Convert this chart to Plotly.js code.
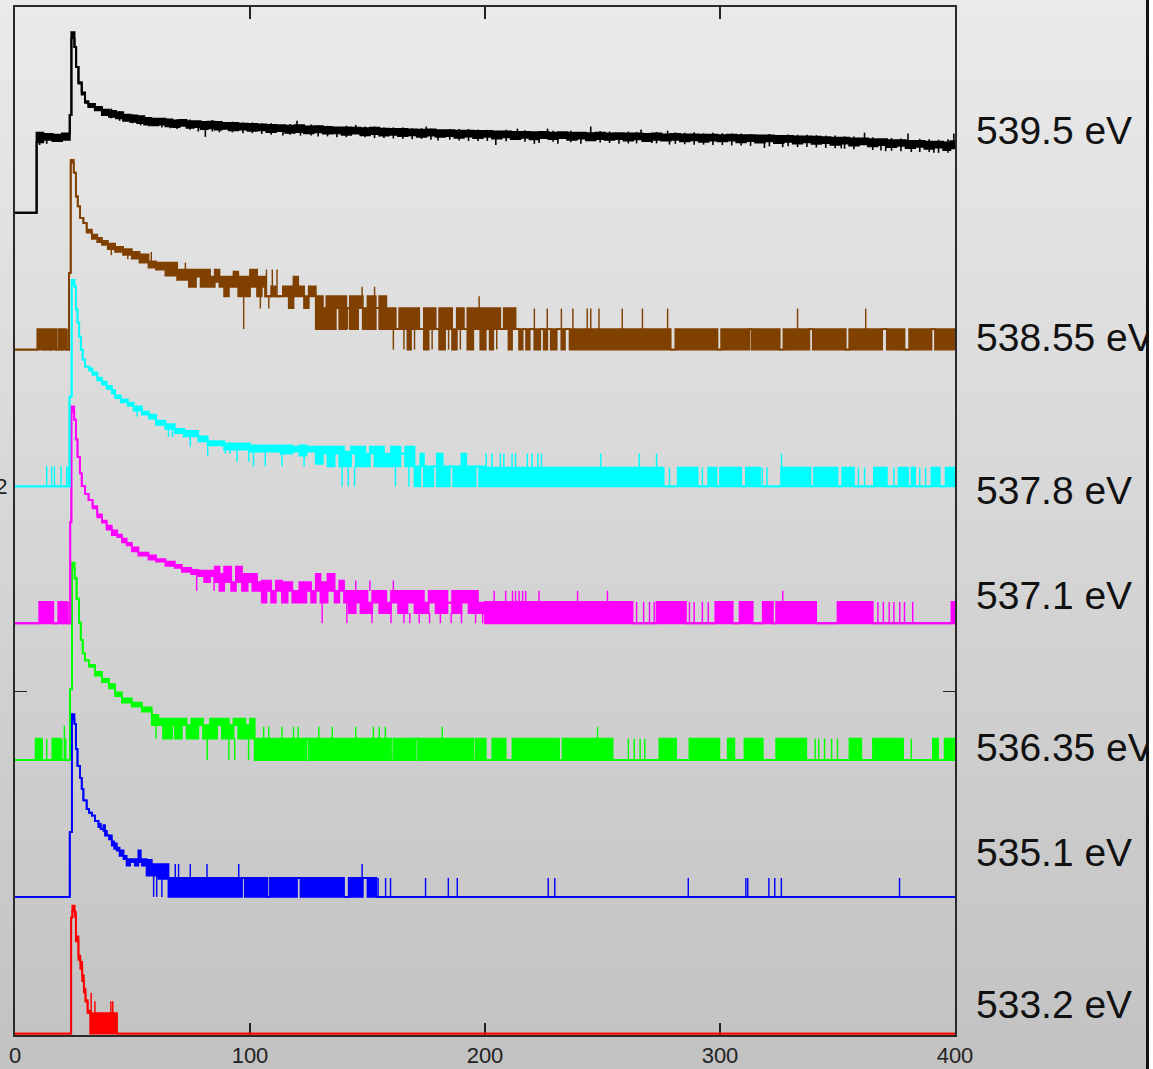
<!DOCTYPE html>
<html>
<head>
<meta charset="utf-8">
<script src="https://cdn.plot.ly/plotly-3.0.1.min.js"></script>
<style>
  html, body { margin: 0; padding: 0; }
  body {
    width: 1153px; height: 1069px; overflow: hidden; position: relative;
    background: linear-gradient(to bottom, #eaeaea 0%, #d6d6d6 50%, #c2c2c2 100%);
  }
  #chart { position: absolute; left: 0; top: 0; width: 1153px; height: 1069px; }
  #edge { position: absolute; left: 1146px; top: 0; width: 3px; height: 1069px; background: #111; }
  #edgeWhite { position: absolute; left: 1149px; top: 0; width: 4px; height: 1069px; background: #fff; }
</style>
</head>
<body>
<div id="chart"></div>
<div id="edge"></div>
<div id="edgeWhite"></div>
<script>
// Time spectra per photon energy. Each step entry is [x, low, high]: the signal
// between x and the next entry toggles between low and high (equal = steady level).
// Spike entries are [x, from, to]: single-bin excursions.

const xTickValues = [0, 100, 200, 300, 400];
const xTickText = ['0', '100', '200', '300', '400'];
const yTickValues = [1.5, 2];
const yTickText = ['', '2'];

const energyLabels = ['539.5 eV', '538.55 eV', '537.8 eV', '537.1 eV', '536.35 eV', '535.1 eV', '533.2 eV'];

// 539.5 eV
const blackSteps = [
  [0,0,0],[9.2,.172,.195],[12,.178,.192],[16,.175,.190],[20,.178,.193],[23.3,.238,.238],
  [24.0,.425,.440],[25.3,.404,.404],[26.0,.355,.355],[27.0,.315,.318],[28.4,.288,.293],
  [29.8,.268,.272],[31.2,.258,.265],[34,.250,.258],[37,.238,.251],[40,.234,.248],
  [43,.230,.245],[46,.224,.239],[49,.222,.237],[52,.219,.235],[55,.215,.231],[58,.213,.229],
  [61,.215,.229],[64,.211,.227],[67,.209,.225],[70,.212,.226],[73,.207,.223],[76,.209,.223],
  [79,.204,.221],[82,.206,.222],[85,.203,.221],[88,.205,.219],[91,.201,.219],[95,.203,.217],
  [99,.200,.216],[103,.201,.215],[107,.197,.214],[111,.199,.213],[115,.195,.212],[119,.197,.213],
  [123,.194,.210],[127,.196,.211],[131,.193,.209],[135,.194,.208],[139,.190,.208],[143,.193,.207],
  [147,.189,.206],[151,.192,.207],[155,.188,.205],[159,.190,.204],[163,.187,.204],[167,.189,.203],
  [171,.185,.202],[175,.188,.203],[179,.185,.201],[183,.187,.201],[187,.183,.200],[191,.186,.200],
  [195,.182,.199],[199,.185,.199],[203,.181,.198],[207,.184,.198],[211,.180,.197],[215,.183,.197],
  [219,.179,.196],[223,.182,.197],[227,.180,.195],[231,.182,.196],[235,.178,.195],[239,.181,.195],
  [243,.177,.194],[247,.180,.195],[251,.178,.193],[255,.180,.194],[259,.176,.193],[263,.179,.193],
  [267,.175,.192],[271,.178,.193],[275,.176,.191],[279,.178,.192],[283,.174,.191],[287,.177,.191],
  [291,.173,.190],[295,.176,.190],[299,.174,.189],[303,.176,.190],[307,.172,.189],[311,.175,.189],
  [315,.171,.188],[319,.174,.188],[323,.170,.187],[327,.173,.187],[331,.169,.186],[335,.172,.186],
  [339,.168,.185],[343,.170,.184],[347,.166,.183],[351,.169,.183],[355,.164,.181],[359,.167,.181],
  [363,.162,.179],[367,.165,.179],[371,.160,.177],[375,.163,.177],[379,.158,.175],[383,.161,.175],
  [387,.156,.173],[391,.159,.173],[395,.153,.171],[398,.157,.174],[400,.157,.174]
];
const blackSpikes = [
  [10.5,.165,.178],[13.5,.168,.178],[41,.230,.254],[44.5,.224,.248],[50,.218,.240],[53.5,.213,.236],
  [57,.210,.232],[62.5,.208,.230],[66,.206,.228],[69,.204,.228],[74.5,.202,.227],[78,.198,.224],
  [81,.185,.207],[84,.198,.226],[87,.196,.222],[92.5,.196,.222],[97,.194,.220],[101,.194,.220],
  [105,.192,.218],[109,.190,.218],[114,.188,.200],[117,.190,.216],[120,.200,.224],[121.5,.188,.214],
  [126,.188,.215],[129,.186,.213],[133,.186,.212],[137,.184,.197],[141,.184,.212],[145,.200,.214],
  [149,.184,.210],[153,.182,.210],[157,.182,.208],[161,.181,.208],[165,.180,.208],[169,.179,.206],
  [173,.180,.206],[175,.195,.210],[177,.178,.205],[180,.176,.190],[185,.178,.204],[189,.176,.204],
  [193,.175,.204],[197,.175,.203],[201,.175,.202],[204.6,.165,.184],[209,.174,.202],[213.8,.190,.205],
  [217,.173,.201],[221,.168,.183],[223,.170,.183],[226.6,.190,.205],[229,.173,.200],[231,.168,.183],
  [236.5,.172,.200],[240.8,.168,.180],[245,.190,.210],[249,.171,.199],[253,.170,.198],[257,.168,.181],
  [261,.169,.198],[264.5,.169,.197],[266.4,.190,.203],[271,.170,.181],[273,.169,.197],[277.7,.188,.200],
  [278.5,.166,.179],[281,.168,.196],[285,.167,.195],[289,.166,.196],[293,.166,.194],[297,.165,.195],
  [301,.165,.194],[305,.164,.193],[309,.164,.193],[313,.163,.192],[318.9,.158,.175],[321,.162,.192],
  [326.7,.160,.173],[329,.162,.191],[333,.160,.190],[337,.160,.190],[341,.159,.189],[345,.158,.188],
  [349,.157,.188],[351.6,.157,.172],[353,.156,.186],[357,.155,.186],[361.5,.170,.195],[365,.153,.184],
  [368.5,.152,.165],[370.5,.150,.163],[373,.151,.182],[377,.150,.181],[380,.165,.193],[381.4,.148,.164],
  [385,.148,.180],[389,.148,.179],[391,.146,.162],[393,.146,.178],[397,.146,.179],[399.5,.165,.193]
];

// 538.55 eV
const brownSteps = [
  [0,0,0],[9.5,0,.05],[12.5,0,0],[13.1,0,.05],[14.6,0,0],[15.2,0,.05],[17.5,0,0],[18.4,0,.05],
  [19.6,0,0],[20.3,0,.05],[21.8,0,0],[23.0,.187,.187],[23.7,.455,.462],[25.0,.431,.431],
  [25.9,.373,.373],[26.7,.349,.349],[27.7,.321,.321],[29.1,.308,.308],[30.5,.285,.292],
  [32.7,.270,.280],[35,.262,.272],[37,.255,.265],[39.5,.245,.258],[42.6,.238,.250],[46,.231,.245],
  [49.7,.222,.238],[53,.212,.232],[56.8,.200,.215],[60,.195,.212],[64,.180,.212],[69,.170,.195],
  [74,.153,.195],[77,.178,.195],[79,.153,.195],[83,.153,.178],[85,.165,.195],[87,.153,.178],
  [89,.130,.178],[91,.153,.178],[93,.153,.190],[95,.130,.178],[98,.130,.178],[100,.153,.195],
  [103,.130,.178],[105,.153,.178],[106.5,.130,.130],[109,.130,.154],[111,.130,.130],[114,.130,.154],
  [116.5,.101,.154],[118.5,.130,.178],[120.5,.130,.154],[123,.101,.130],[125,.130,.154],
  [128,.05,.130],[131,.05,.101],[132.5,.05,.130],[136.5,.101,.130],[138,.05,.130],[141,.101,.101],
  [142.5,.05,.130],[146,.101,.130],[148,.05,.101],[150,.05,.130],[153.5,.101,.101],[155,.05,.130],
  [158,.05,.101],[162,.05,.05],[163.5,.05,.101],[167,0,.101],[168.5,.05,.101],[172,.05,.05],
  [174,0,.101],[176,.05,.101],[179,.05,.05],[180.5,0,.101],[183,.05,.101],[186,0,.05],
  [188,.05,.101],[191,.05,.05],[192.5,0,.101],[195,.05,.101],[198,0,.101],[200.3,.05,.101],
  [202,0,.101],[203.5,.05,.101],[206.5,.05,.05],[208,.05,.101],[210,0,.101],[211.5,.05,.101],
  [213,.05,.05],[214.5,0,.05],[216,.05,.05],[217.5,0,.05],[219,.05,.05],[221,0,.05],[223.5,.05,.05],
  [225,0,.05],[226.5,.05,.05],[228,0,.05],[230.5,.05,.05],[232.5,0,.05],[234,.05,.05],[236,0,.05],
  [279,0,0],[281,0,.05],[298.9,0,0],[300.5,0,.05],[312.5,.05,.05],[313.5,0,.05],[325.4,0,0],
  [327,0,.05],[338,.05,.05],[339.5,0,.05],[353.5,0,0],[355,0,.05],[369,.05,.05],[371,0,.05],
  [378.5,0,0],[380.5,0,.05],[390,.05,.05],[391.5,0,.05],[400,0,.05]
];
const brownSpikes = [
  [22.5,0,.05],[41,.23,.245],[48,.22,.231],[58,.215,.238],[72.5,.195,.212],[97.3,.05,.153],
  [104.4,.10,.130],[107,.130,.195],[108,.10,.130],[109.5,.130,.195],[111.5,.130,.195],[124,.10,.130],
  [141.5,.05,.100],[147.7,.130,.153],[153,.130,.153],[161,0,.05],[165.5,0,.05],[170,0,.05],
  [177.5,0,.05],[182,0,.05],[184.5,0,.05],[189.5,0,.05],[194,0,.05],[197.5,.10,.130],[205,0,.05],
  [221,.05,.10],[226.5,.05,.10],[232.5,.05,.10],[237.4,.05,.10],[243.5,.05,.10],[245,.05,.10],
  [248.5,.05,.10],[258.4,.05,.10],[267,.05,.10],[277.7,.05,.10],[333,.05,.10],[362,.05,.10]
];

// 537.8 eV
const cyanSteps = [
  [0,0,0],[23.2,.219,.219],[24.1,.495,.503],[25.3,.487,.487],[25.9,.431,.431],[26.6,.399,.399],
  [27.3,.365,.365],[28.0,.333,.333],[28.8,.309,.309],[29.8,.292,.292],[31.5,.282,.288],
  [33,.272,.278],[35,.258,.265],[37,.248,.255],[39,.238,.245],[41.2,.226,.235],[42.6,.215,.222],
  [45,.205,.212],[48,.196,.204],[50.5,.185,.195],[54,.175,.182],[57,.165,.175],[60,.150,.160],
  [64,.140,.152],[68,.130,.140],[72,.122,.135],[78,.110,.122],[82,.100,.110],[89,.090,.105],
  [100,.085,.100],[113,.080,.100],[118,.085,.097],[121,.075,.100],[124,.085,.097],[128,.055,.097],
  [131,.080,.097],[133,.049,.097],[136,.080,.097],[138,.049,.097],[140,.049,.085],[143,.080,.097],
  [145,.049,.097],[149,.049,.080],[151,.080,.097],[153,.049,.097],[157,.049,.080],[160,.049,.097],
  [164,.080,.080],[166,.049,.097],[170,0,.049],[172.5,.049,.080],[174,0,.049],[178,.049,.049],
  [179.5,0,.080],[182,0,.049],[185,.049,.049],[186.5,0,.049],[190,0,.080],[192,0,.049],
  [196,.049,.049],[197.5,0,.049],[200,0,.046],
  [276,0,0],[282,0,.046],[290.5,0,0],[295,0,.046],[298.5,0,0],[300,0,.046],[309,0,0],[311,0,.046],
  [317,0,0],[326,0,.046],[338.5,0,0],[340,0,.046],[350,0,0],[352,0,.046],[357,0,0],[365.5,0,.046],
  [371,0,0],[376,0,.046],[380,0,0],[381.5,0,.046],[383,0,0],[390,0,.046],[393.5,0,0],[396,0,.046],
  [400,0,.046]
];
const cyanSpikes = [
  [13.5,0,.049],[15.6,0,.049],[16.8,0,.049],[19.6,0,.049],[22.0,0,.049],[22.7,0,.049],
  [52,.170,.185],[65.3,.120,.140],[67,.120,.140],[71.7,.120,.130],[74.6,.097,.122],[82,.075,.100],
  [89.5,.080,.090],[91.5,.080,.090],[94.5,.060,.090],[99.5,.060,.090],[101.5,.049,.085],
  [106.5,.049,.085],[113.6,.049,.080],[123,.049,.080],[139.2,0,.049],[141.8,0,.049],
  [144.5,0,.049],[161.9,0,.049],[167.6,0,.049],[200.5,.046,.08],[203,.046,.08],[206.5,.046,.08],
  [208,.046,.08],[211.5,.046,.08],[213,.046,.08],[218,.046,.08],[220,.046,.08],[222.5,.046,.08],
  [224,.046,.08],[249.3,.046,.08],[265.6,.046,.08],[273,.046,.08],[326.2,.046,.08],[278.5,0,.046],
  [292.5,0,.046],[318,0,.046],[320,0,.046],[358.9,0,.046],[361.5,0,.046],[374,0,.046],
  [385,0,.046],[387.5,0,.046]
];

// 537.1 eV
const magentaSteps = [
  [0,0,0],[10.3,0,.052],[16.3,0,0],[18.4,0,.052],[20.1,0,0],[20.6,0,.052],[22.2,0,0],
  [23.5,.246,.246],[24.0,.515,.528],[25.2,.496,.496],[25.9,.448,.448],[26.6,.405,.405],
  [27.6,.365,.365],[28.4,.334,.334],[29.8,.315,.315],[31.3,.300,.300],[33,.280,.285],
  [35,.258,.265],[37,.245,.250],[39,.228,.238],[41.2,.215,.226],[43.5,.210,.216],[45.5,.197,.206],
  [47.5,.190,.196],[49.7,.175,.185],[52.5,.165,.172],[56.8,.155,.165],[60,.150,.156],[64,.140,.150],
  [68,.135,.142],[71,.125,.135],[75,.120,.130],[78,.115,.128],[80.5,.100,.128],[83,.115,.128],
  [85,.100,.138],[87,.079,.120],[89,.100,.138],[92,.079,.100],[94,.100,.138],[96.6,.079,.120],
  [99,.100,.120],[101,.079,.120],[103,.079,.100],[105,.050,.104],[107,.079,.104],[109,.050,.079],
  [111,.079,.104],[113.6,.050,.100],[116,.079,.100],[118,.050,.079],[121,.050,.100],[124,.079,.100],
  [126,.050,.079],[128,.079,.120],[130,.050,.100],[133,.079,.120],[136,.050,.079],[138,.079,.104],
  [140,.050,.079],[142,.025,.079],[145,.050,.079],[147,.025,.079],[150,.025,.050],[152,.050,.079],
  [155,.025,.079],[158,.025,.050],[160,.050,.079],[163,.025,.079],[167,.050,.079],[170,.025,.079],
  [174,.025,.050],[176,.050,.079],[179,.025,.079],[184,.050,.050],[186,.025,.079],[190,.050,.079],
  [193,.025,.079],[197,.025,.050],[200,0,.052],[262.8,0,0],
  [273,0,.052],[285.5,0,0],[298,0,.052],[305.4,0,0],[308.3,0,.052],[313.9,0,0],[318.2,0,.052],
  [322.5,0,0],[323.9,0,.052],[340.9,0,0],[350,0,.052],[365,0,0],[398.5,0,.052],[400,0,.052]
];
const magentaSpikes = [
  [22.6,0,.052],[77.3,.079,.120],[84.7,.079,.115],[130.7,0,.05],[141.2,0,.05],
  [145,.079,.104],[151,.079,.104],[151.9,0,.025],[160,0,.025],[161,.079,.104],[165.5,0,.025],
  [168,0,.025],[172,0,.025],[176.4,0,.025],[181,0,.025],[185.6,0,.025],
  [190,0,.025],[196,0,.025],[199,0,.025],[203.9,.052,.079],[208.8,.052,.079],
  [211.7,.052,.079],[213,.052,.079],[214.5,.052,.079],[216,.052,.079],[217.3,.052,.079],
  [223,.052,.079],[239.4,.052,.079],[252.1,.052,.079],[326.7,.052,.079],[264.5,0,.052],
  [267.5,0,.052],[270,0,.052],[272,0,.052],[287,0,.052],[289,0,.052],[292.5,0,.052],[295,0,.052],
  [367.2,0,.052],[369.5,0,.052],[372,0,.052],[374,0,.052],[376.5,0,.052],[378.5,0,.052],[382,0,.052]
];

// 536.35 eV
const greenSteps = [
  [0,0,0],[8.8,0,.052],[11.2,0,0],[15.9,0,.052],[19.3,0,0],[23.4,.173,.173],[24.3,.465,.481],
  [25.4,.443,.443],[26.2,.393,.393],[27.2,.335,.335],[28.0,.293,.293],[28.8,.260,.260],
  [29.8,.243,.243],[31.5,.227,.232],[34,.206,.215],[37,.190,.198],[40,.175,.185],[42.6,.156,.165],
  [45.5,.140,.150],[49.7,.130,.140],[54,.118,.128],[58.2,.085,.110],[61,.085,.101],[63,.052,.101],
  [66.8,.085,.101],[68,.052,.101],[71,.085,.101],[73,.052,.085],[75,.052,.101],[78,.085,.101],
  [80,.052,.085],[83,.052,.101],[86,.085,.101],[88,.052,.101],[91,.052,.085],[93,.085,.101],
  [95,.052,.101],[98,.052,.085],[100,.052,.101],[102,0,.052],
  [124,.052,.052],[125,0,.052],[160,0,0],[161,0,.052],[170.5,.052,.052],[171.5,0,.052],[195,0,0],
  [196,0,.052],[200.3,0,0],[203.1,0,.052],[208.8,0,0],[211.7,0,.052],[231.5,0,0],[233,0,.052],
  [254.3,0,0],[274.2,0,.052],[281.3,0,0],[287,0,.052],[299.7,0,0],[303.3,0,.052],[306.1,0,0],
  [310.4,0,.052],[318.2,0,0],[323.9,0,.052],[336.7,0,0],[355.1,0,.052],[360.1,0,0],[365.1,0,.052],
  [377.9,0,0],[390.6,0,.052],[392.8,0,0],[395.6,0,.052],[400,0,.052]
];
const greenSpikes = [
  [11.6,0,.052],[13.5,0,.052],[19.9,0,.052],[21.0,0,.083],[21.6,0,.052],[60,.052,.085],
  [81.8,0,.052],[91,0,.052],[93.5,0,.052],[99.4,0,.052],[105.8,.052,.081],
  [108,.052,.081],[113.6,.052,.081],[118.5,.052,.081],[120.5,.052,.081],[129.3,.052,.081],
  [135,.052,.081],[145,.052,.081],[152.5,.052,.081],[155,.052,.081],[157.6,.052,.081],
  [181.8,.052,.081],[247.9,.052,.081],[261,0,.052],[263.5,0,.052],[266,0,.052],[268,0,.052],
  [340.5,0,.052],[342,0,.052],[344.5,0,.052],[347.5,0,.052],[350,0,.052],[381.4,0,.052]
];

// 535.1 eV
const blueSteps = [
  [0,0,0],[23.3,.158,.158],[24.2,.432,.445],[25.3,.421,.421],[25.9,.360,.360],[26.6,.319,.319],
  [27.7,.290,.290],[28.4,.263,.263],[29.1,.235,.235],[30.5,.214,.214],[31.5,.205,.205],
  [32.7,.198,.198],[34,.185,.185],[35.5,.170,.178],[36.5,.165,.165],[37.6,.161,.175],
  [38.3,.149,.161],[39.1,.150,.150],[40,.140,.150],[41.2,.125,.135],[42.2,.117,.130],
  [43.3,.113,.120],[44.5,.100,.113],[46.2,.092,.100],[47.5,.076,.092],[49,.085,.092],
  [51,.076,.092],[52.5,.085,.113],[53.5,.085,.092],[54,.076,.092],[56,.052,.090],[58.2,.052,.080],
  [61,.044,.080],[65.3,0,.046],[96.6,.046,.046],[97.8,0,.046],[107.4,0,0],[108.5,0,.046],
  [120,.046,.046],[121.5,0,.046],[140,0,0],[142,0,.046],[148,.046,.046],[150,0,.046],[153.8,0,0],
  [400,0,0]
];
const blueSpikes = [
  [59,0,.052],[60.3,0,.052],[62.5,0,.044],[68.2,.046,.080],[69.6,.046,.080],[74.6,.046,.080],
  [81.7,.046,.080],[95.2,.046,.080],[147.7,.046,.080],[154.5,0,.046],[157.7,0,.046],[159.8,0,.046],
  [174.7,0,.046],[184.4,0,.046],[188.2,0,.046],[226.9,0,.046],[229.7,0,.046],[286.5,0,.046],
  [311.0,0,.046],[311.8,0,.046],[320.8,0,.046],[323.3,0,.046],[326.1,0,.046],[376.4,0,.046]
];

// 533.2 eV
const redSteps = [
  [0,0,0],[23.9,.283,.283],[24.4,.300,.312],[25.4,.285,.296],[25.9,.225,.237],[27.0,.180,.190],
  [27.8,.158,.175],[28.6,.128,.142],[29.3,.100,.110],[30.0,.078,.082],[30.9,.050,.056],
  [32.0,0,.050],[43.4,0,0],[400,0,0]
];
const redSpikes = [
  [32.4,.05,.10],[34.0,.05,.079],[40.8,.05,.079],[41.6,.05,.079]
];

// Drawing: vertical stacking of the spectra and their colours.
const stackOffset = [8/3, 7/3, 2, 5/3, 4/3, 1, 2/3];
const labelY = [2.866, 2.364, 1.989, 1.735, 1.363, 1.109, 0.737];
const colors = ['#000000', '#804000', '#00ffff', '#ff00ff', '#00ff00', '#0000ff', '#ff0000'];
const widths = [2, 1.8, 1.8, 1.8, 1.8, 1.8, 1.8];
const allSteps = [blackSteps, brownSteps, cyanSteps, magentaSteps, greenSteps, blueSteps, redSteps];
const allSpikes = [blackSpikes, brownSpikes, cyanSpikes, magentaSpikes, greenSpikes, blueSpikes, redSpikes];

const traces = [];
// bottom spectrum first so the upper ones sit on top
for (let i = allSteps.length - 1; i >= 0; i--) {
  const base = stackOffset[i];
  const steps = allSteps[i];
  const line = {shape: 'hv', color: colors[i], width: widths[i]};
  traces.push({
    type: 'scatter', mode: 'lines', hoverinfo: 'skip',
    x: steps.map(s => s[0]), y: steps.map(s => base + s[2]), line
  });
  traces.push({
    type: 'scatter', mode: 'lines', hoverinfo: 'skip',
    x: steps.map(s => s[0]), y: steps.map(s => base + s[1]), line,
    fill: 'tonexty', fillcolor: colors[i]
  });
  const sx = [], sy = [];
  allSpikes[i].forEach(s => { sx.push(s[0], s[0], null); sy.push(base + s[1], base + s[2], null); });
  traces.push({
    type: 'scatter', mode: 'lines', hoverinfo: 'skip',
    x: sx, y: sy, line: {color: colors[i], width: widths[i] * 0.8}
  });
}

const tickFont = {family: '"Liberation Sans", Arial, sans-serif', size: 22, color: '#222'};

const annotations = energyLabels.map((t, i) => ({
  text: t, xref: 'paper', yref: 'y', x: 1.0205, y: labelY[i],
  xanchor: 'left', yanchor: 'middle', showarrow: false,
  font: {family: '"Liberation Sans", Arial, sans-serif', size: 39, color: '#111'}
}));

const layout = {
  width: 1153, height: 1069,
  margin: {l: 15, r: 198, t: 7, b: 34, pad: 0},
  paper_bgcolor: 'rgba(0,0,0,0)', plot_bgcolor: 'rgba(0,0,0,0)',
  showlegend: false, hovermode: false,
  xaxis: {
    range: [0, 400], tickmode: 'array', tickvals: xTickValues, ticktext: xTickText,
    ticks: 'inside', ticklen: 12, tickwidth: 1.5, tickcolor: '#222',
    showline: true, linecolor: '#2a2a2a', linewidth: 2, mirror: 'ticks',
    showgrid: false, zeroline: false, tickfont: tickFont, ticklabelstandoff: 0,
    ticklabeloverflow: 'allow', layer: 'below traces'
  },
  yaxis: {
    range: [0.6635, 3.168], tickmode: 'array', tickvals: yTickValues, ticktext: yTickText,
    ticks: 'inside', ticklen: 12, tickwidth: 1.5, tickcolor: '#222',
    showline: true, linecolor: '#2a2a2a', linewidth: 2, mirror: 'ticks',
    showgrid: false, zeroline: false, tickfont: tickFont, ticklabelstandoff: 1,
    ticklabeloverflow: 'allow', layer: 'below traces'
  },
  annotations
};

Plotly.newPlot('chart', traces, layout, {displayModeBar: false, staticPlot: true});
</script>
</body>
</html>
